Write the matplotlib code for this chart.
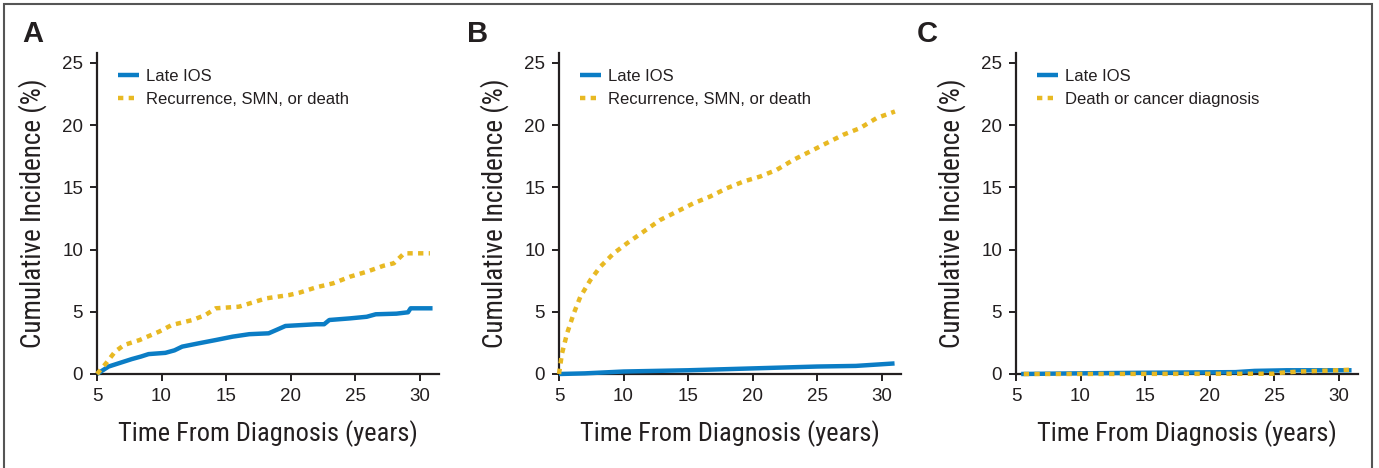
import matplotlib.pyplot as plt
from matplotlib.patches import Rectangle

# Panel A: late IOS vs recurrence/SMN/death
a_ios_t = [5.0, 5.9, 6.8, 7.7, 8.4, 9.0, 10.3, 11.0, 11.6, 12.9, 14.2, 15.5, 16.8, 18.3, 18.9, 19.6, 22.0, 22.6, 23.0, 24.6, 25.9, 26.6, 28.2, 29.1, 29.3, 31.0]
a_ios_y = [0.0, 0.6, 0.9, 1.2, 1.4, 1.6, 1.7, 1.9, 2.2, 2.47, 2.73, 3.0, 3.2, 3.27, 3.54, 3.86, 4.0, 4.0, 4.34, 4.47, 4.6, 4.8, 4.85, 4.96, 5.28, 5.28]
a_evt_t = [5.0, 5.7, 6.4, 7.1, 8.3, 9.8, 10.8, 12.4, 13.4, 14.2, 16.0, 18.1, 19.9, 20.7, 22.0, 23.3, 24.6, 25.9, 27.2, 28.0, 28.8, 30.8]
a_evt_y = [0.0, 0.86, 1.8, 2.33, 2.73, 3.4, 3.94, 4.34, 4.74, 5.28, 5.41, 6.08, 6.35, 6.54, 6.97, 7.29, 7.82, 8.22, 8.7, 8.9, 9.7, 9.7]

# Panel B
b_ios_t = [5.0, 7.0, 10.0, 15.0, 20.0, 25.0, 28.0, 31.0]
b_ios_y = [0.0, 0.05, 0.2, 0.3, 0.45, 0.6, 0.65, 0.85]
b_evt_t = [5.0, 5.23, 5.62, 6.14, 6.65, 7.43, 8.2, 9.23, 10.26, 11.55, 12.84, 14.13, 15.42, 16.7, 18.0, 19.3, 20.58, 21.87, 23.16, 24.45, 25.74, 27.03, 28.32, 29.61, 31.03]
b_evt_y = [0.0, 1.64, 3.25, 4.86, 6.2, 7.55, 8.62, 9.69, 10.5, 11.44, 12.38, 13.05, 13.72, 14.26, 14.93, 15.47, 15.87, 16.41, 17.21, 17.88, 18.56, 19.23, 19.76, 20.57, 21.1]

# Panel C
c_ios_t = [5.4, 9.5, 15.0, 22.0, 23.5, 26.0, 31.0]
c_ios_y = [0.0, 0.05, 0.1, 0.15, 0.25, 0.3, 0.3]
c_evt_t = [5.6, 25.0, 25.5, 27.0, 30.0, 31.0]
c_evt_y = [0.0, 0.02, 0.1, 0.2, 0.3, 0.35]

panels = ["A", "B", "C"]
evt_labels = ["Recurrence, SMN, or death", "Recurrence, SMN, or death", "Death or cancer diagnosis"]
x_ticks = [5, 10, 15, 20, 25, 30]
y_ticks = [0, 5, 10, 15, 20, 25]

blue = "#0b7dc5"
gold = "#e8b923"
ink = "#231f20"
plt.rcParams["font.family"] = ["Liberation Sans", "DejaVu Sans"]
narrow = ["Roboto Condensed", "Liberation Sans"]

fig = plt.figure(figsize=(13.79, 4.68), dpi=100)
fig.patches.append(Rectangle((4 / 1379, -0.05), 1368 / 1379, 1.05 - 4 / 468,
                             transform=fig.transFigure, fill=False,
                             edgecolor="#555555", lw=1.5))

lefts = [97, 559, 1016]
letter_x = [22, 467, 917]
data = [(a_ios_t, a_ios_y, a_evt_t, a_evt_y),
        (b_ios_t, b_ios_y, b_evt_t, b_evt_y),
        (c_ios_t, c_ios_y, c_evt_t, c_evt_y)]

for i, (left, (it, iy, et, ey)) in enumerate(zip(lefts, data)):
    ax = fig.add_axes([left / 1379, 1 - 374 / 468, 342 / 1379, 321 / 468])
    ax.plot(it, iy, color=blue, lw=3.2, label="Late IOS",
            clip_on=False, zorder=3, solid_capstyle="butt")
    ax.plot(et, ey, color=gold, lw=3.2, linestyle=(0, (1.2, 1.2)),
            label=evt_labels[i], clip_on=False, zorder=4)
    ax.set_xlim(5, 31.5)
    ax.set_ylim(0, 25.8)
    ax.set_xticks(x_ticks)
    ax.set_yticks(y_ticks)
    for s in ["top", "right"]:
        ax.spines[s].set_visible(False)
    for s in ["left", "bottom"]:
        ax.spines[s].set_linewidth(1.6)
        ax.spines[s].set_color(ink)
    ax.tick_params(direction="out", length=5, width=1.4, colors=ink,
                   labelsize=13.5, pad=5)
    ax.set_ylabel("Cumulative Incidence (%)", family=narrow,
                  fontsize=19.5, color=ink, labelpad=11)
    ax.set_xlabel("Time From Diagnosis (years)", family=narrow,
                  fontsize=19, color=ink, labelpad=11)
    leg = ax.legend(loc="upper left", bbox_to_anchor=(0.06, 0.95), frameon=False,
                    fontsize=12, handlelength=1.3, handletextpad=0.4,
                    labelspacing=0.45, borderpad=0, borderaxespad=0)
    for t in leg.get_texts():
        t.set_color(ink)
    fig.text(letter_x[i] / 1379, 1 - 20 / 468, panels[i], fontsize=21,
             fontweight="bold", color=ink, va="top", ha="left")

fig.savefig("out.png", dpi=100)
